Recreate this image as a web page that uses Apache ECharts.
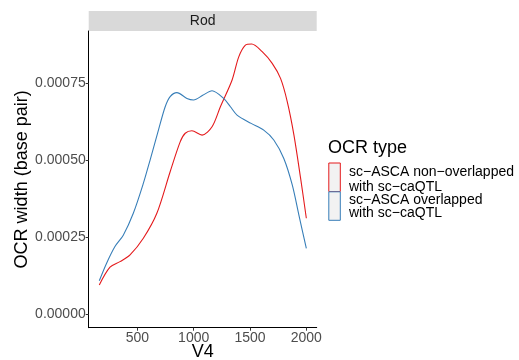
<!DOCTYPE html>
<html><head><meta charset="utf-8">
<script src="https://cdn.jsdelivr.net/npm/echarts@6/dist/echarts.min.js"></script>
<style>html,body{margin:0;padding:0;background:#fff}#c{width:519px;height:360px}</style>
</head><body><div id="c"></div>
<script>
var stripLabel = "Rod";
var xTicks = [500, 1000, 1500, 2000];
var yTicks = [0, 0.00025, 0.0005, 0.00075];
var seriesNames = ["sc\u2212ASCA non\u2212overlapped\nwith sc\u2212caQTL", "sc\u2212ASCA overlapped\nwith sc\u2212caQTL"];
var redX = [162, 257, 346, 435, 553, 673, 791, 880, 925, 984, 1074, 1163, 1237, 1341, 1400, 1459, 1515, 1608, 1697, 1771, 1831, 1890, 1949, 2000];
var redY = [0.0000942, 0.000152, 0.00017, 0.000192, 0.000246, 0.000327, 0.000462, 0.000559, 0.000587, 0.000595, 0.000581, 0.000608, 0.000673, 0.00076, 0.000835, 0.000873, 0.000877, 0.000852, 0.000814, 0.000765, 0.000689, 0.000581, 0.000441, 0.000311];
var blueX = [162, 227, 301, 375, 464, 553, 613, 687, 747, 791, 851, 940, 999, 1080, 1163, 1266, 1326, 1385, 1510, 1622, 1711, 1800, 1875, 1934, 2000];
var blueY = [0.000108, 0.000165, 0.000219, 0.000256, 0.000327, 0.000424, 0.0005, 0.000597, 0.000673, 0.000706, 0.000719, 0.0007, 0.000695, 0.00071, 0.000725, 0.0007, 0.000673, 0.000646, 0.000619, 0.000597, 0.000565, 0.000505, 0.000419, 0.000321, 0.000213];
var colors = ["#E41A1C", "#377EB8"];

function pairs(xs, ys){ return xs.map(function(x,i){return [x, ys[i]];}); }
var FONT = "'Liberation Sans', Arial, Helvetica, sans-serif";
var L = 88.7, R = 316.7, T = 31, B = 327.7;
var chart = echarts.init(document.getElementById('c'), null, {renderer:'canvas'});
chart.setOption({
  animation:false,
  textStyle:{fontFamily:FONT},
  grid:{left:L, top:T, width:R-L, height:B-T, containLabel:false, outerBoundsMode:'none'},
  xAxis:{type:'value', min:68, max:2092,
    name:'V4', nameLocation:'middle', nameGap:24, nameMoveOverlap:false,
    nameTextStyle:{fontSize:18, color:'#000', fontFamily:FONT, verticalAlign:'middle'},
    axisLine:{show:true, onZero:false, lineStyle:{color:'#000', width:1}},
    axisTick:{show:true, length:3, lineStyle:{color:'#333'}, customValues:xTicks},
    axisLabel:{fontSize:14, color:'#4d4d4d', margin:3, fontFamily:FONT, customValues:xTicks,
      formatter:function(v){return String(v);}},
    splitLine:{show:false}},
  yAxis:{type:'value', min:-0.0000445, max:0.000919,
    name:'OCR width (base pair)', nameLocation:'middle', nameGap:67, nameMoveOverlap:false,
    nameTextStyle:{fontSize:18, color:'#000', fontFamily:FONT, verticalAlign:'middle'},
    axisLine:{show:true, onZero:false, lineStyle:{color:'#000', width:1}},
    axisTick:{show:true, length:3, lineStyle:{color:'#333'}, customValues:yTicks},
    axisLabel:{fontSize:14, color:'#4d4d4d', margin:3, fontFamily:FONT, customValues:yTicks,
      formatter:function(v){return v.toFixed(5);}},
    splitLine:{show:false}},
  series:[
    {type:'line', name:seriesNames[0], data:pairs(redX, redY), smooth:0.3, showSymbol:false,
      lineStyle:{color:colors[0], width:1.1}},
    {type:'line', name:seriesNames[1], data:pairs(blueX, blueY), smooth:0.3, showSymbol:false,
      lineStyle:{color:colors[1], width:1.1}}
  ],
  graphic:[
    {type:'rect', shape:{x:L, y:11, width:R-L, height:20}, style:{fill:'#d9d9d9'}},
    {type:'text', x:(L+R)/2, y:21, style:{text:stripLabel, fontSize:14, fill:'#1a1a1a', fontFamily:FONT, align:'center', verticalAlign:'middle'}},
    {type:'text', x:328, y:148, style:{text:'OCR type', fontSize:18, fill:'#000', fontFamily:FONT, verticalAlign:'middle'}},
    {type:'rect', shape:{x:328.8, y:163, width:11.5, height:28.5}, style:{fill:'#f2f2f2', stroke:colors[0], lineWidth:1}},
    {type:'rect', shape:{x:328.8, y:191.8, width:11.5, height:28.5}, style:{fill:'#f2f2f2', stroke:colors[1], lineWidth:1}},
    {type:'text', x:349, y:179.5, style:{text:seriesNames[0], fontSize:14, lineHeight:15, fill:'#000', fontFamily:FONT, verticalAlign:'middle'}},
    {type:'text', x:349, y:207, style:{text:seriesNames[1], fontSize:14, lineHeight:13, fill:'#000', fontFamily:FONT, verticalAlign:'middle'}}
  ]
});
</script></body></html>
